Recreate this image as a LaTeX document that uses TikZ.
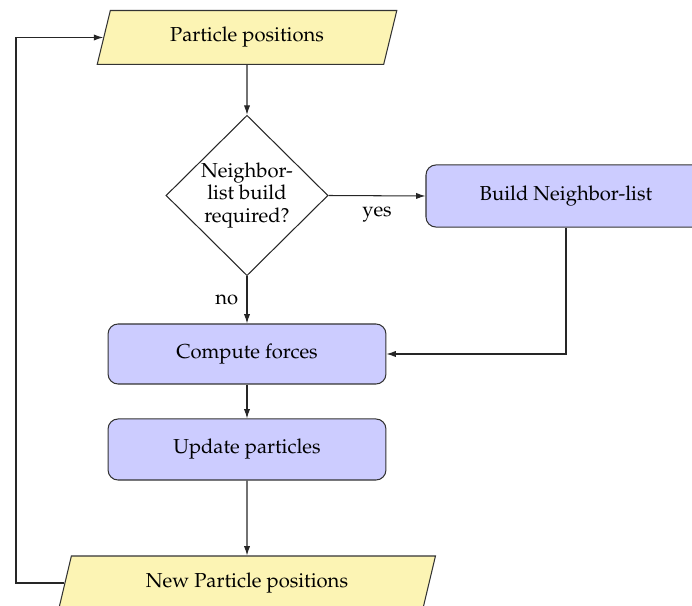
\documentclass[tikz,border=0pt]{standalone}
\usepackage[T1]{fontenc}
\usepackage{mathpazo}
\usetikzlibrary{shapes.geometric,arrows.meta}
\definecolor{paraYellow}{RGB}{252,244,180}
\definecolor{boxBlue}{RGB}{204,204,255}
\tikzset{
  basefont/.style={font=\fontsize{9.7}{11.6}\selectfont},
  io/.style={trapezium, trapezium left angle=70, trapezium right angle=110,
    trapezium stretches=true, draw=black!80, fill=paraYellow, line width=0.5pt,
    minimum height=25.9pt, inner sep=0pt, basefont},
  proc/.style={rectangle, rounded corners=4.8pt, draw=black!80, fill=boxBlue,
    line width=0.5pt, inner sep=0pt, basefont},
  decide/.style={diamond, draw=black!85, fill=white, line width=0.5pt,
    minimum width=77.8pt, minimum height=77pt, inner sep=0pt, align=center,
    font=\fontsize{9.7}{10.6}\selectfont},
  arr/.style={-{Latex[length=4.5pt,width=3pt]}, draw=black!85, line width=0.5pt},
  lbl/.style={inner sep=0pt, basefont}
}
\begin{document}
\begin{tikzpicture}[x=0.48pt,y=-0.48pt]
\path[use as bounding box, clip] (0,0) rectangle (692,606);
\node[io, minimum width=144.5pt] (partpos) at (247,37.5) {Particle positions};
\node[decide] (decision) at (247,195.5) {Neighbor-\\list build\\required?};
\node[proc, minimum width=134.4pt, minimum height=29.8pt] (build) at (566,196) {Build Neighbor-list};
\node[proc, minimum width=133.4pt, minimum height=28.8pt] (compute) at (247,354) {Compute forces};
\node[proc, minimum width=133.4pt, minimum height=29.3pt] (update) at (247,449.5) {Update particles};
\node[io, minimum width=181pt] (newpos) at (247,583) {New Particle positions};
\coordinate (loopx) at (16,300);

\draw[arr] (partpos.south) -- (decision.north);
\draw[arr] (decision.east) -- node[lbl, below=5pt] {yes} (build.west);
\draw[arr] (decision.south) -- node[lbl, left=4pt, pos=0.5] {no} (compute.north);
\draw[arr] (build.south) |- (compute.east);
\draw[arr] (compute.south) -- (update.north);
\draw[arr] (update.south) -- (newpos.north);
\draw[arr] (newpos.west) -| (loopx) |- (partpos.west);
\end{tikzpicture}
\end{document}
